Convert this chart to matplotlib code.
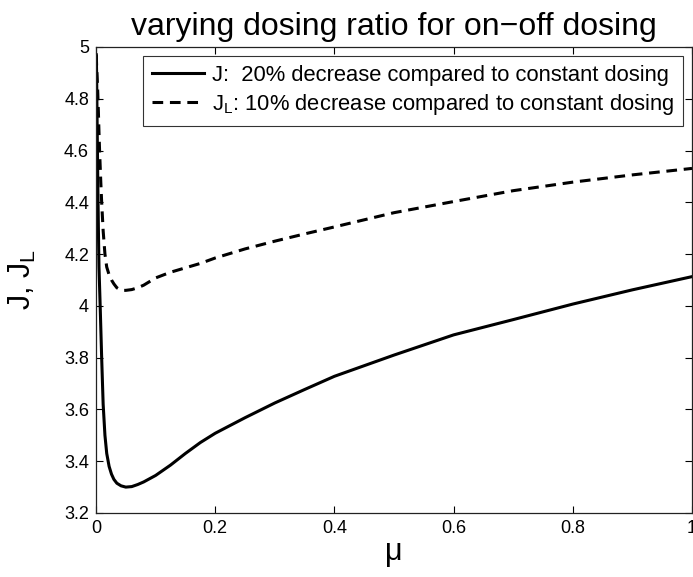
import matplotlib
matplotlib.use("Agg")
import matplotlib.pyplot as plt
from matplotlib.ticker import FuncFormatter

plt.rcParams['font.family'] = ['Liberation Sans', 'DejaVu Sans']
plt.rcParams['mathtext.fontset'] = 'custom'
plt.rcParams['mathtext.rm'] = 'Liberation Sans'
plt.rcParams['mathtext.it'] = 'Liberation Sans:italic'

# dosing ratio mu and the two cost functionals
mu_J = [0.0005, 0.001, 0.002, 0.003, 0.004, 0.005, 0.007, 0.0095, 0.012, 0.015,
        0.018, 0.022, 0.026, 0.03, 0.035, 0.042, 0.05, 0.06, 0.07, 0.08, 0.1,
        0.125, 0.15, 0.175, 0.2, 0.25, 0.3, 0.35, 0.4, 0.5, 0.6, 0.7, 0.8, 0.9, 1.0]
J = [4.97, 4.9, 4.68, 4.48, 4.3, 4.15, 4.0, 3.8, 3.62, 3.5,
     3.43, 3.38, 3.35, 3.33, 3.315, 3.305, 3.30, 3.302, 3.31, 3.32, 3.345,
     3.385, 3.43, 3.472, 3.508, 3.568, 3.625, 3.677, 3.728, 3.81, 3.888, 3.947, 4.007, 4.062, 4.113]

mu_JL = [0.0005, 0.001, 0.002, 0.003, 0.004, 0.005, 0.006, 0.008, 0.0095, 0.012,
         0.015, 0.018, 0.022, 0.026, 0.03, 0.035, 0.04, 0.045, 0.05, 0.06, 0.07,
         0.08, 0.1, 0.125, 0.15, 0.175, 0.2, 0.25, 0.3, 0.35, 0.4, 0.5, 0.6, 0.7,
         0.8, 0.9, 1.0]
JL = [4.97, 4.93, 4.88, 4.82, 4.75, 4.67, 4.6, 4.48, 4.4, 4.29,
      4.2, 4.15, 4.12, 4.1, 4.085, 4.07, 4.063, 4.06, 4.06, 4.063, 4.07,
      4.08, 4.108, 4.13, 4.147, 4.164, 4.185, 4.22, 4.25, 4.278, 4.305, 4.36, 4.403, 4.445,
      4.478, 4.506, 4.531]

legend_labels = ['J:  20% decrease compared to constant dosing',
                 r'J$_{\mathrm{L}}$: 10% decrease compared to constant dosing']
x_ticks = [0, 0.2, 0.4, 0.6, 0.8, 1]
y_ticks = [3.2, 3.4, 3.6, 3.8, 4, 4.2, 4.4, 4.6, 4.8, 5]

fig = plt.figure(figsize=(6.93, 5.77), dpi=100)
ax = fig.add_axes([96 / 693, 64 / 577, 596 / 693, 466 / 577])

ax.plot(mu_J, J, color='black', lw=2.2, solid_joinstyle='round', label=legend_labels[0])
ax.plot(mu_JL, JL, color='black', lw=2.2, linestyle=(0, (3.5, 2.2)), label=legend_labels[1])

ax.set_xlim(0, 1)
ax.set_ylim(3.2, 5)
ax.set_xticks(x_ticks)
ax.set_yticks(y_ticks)
fmt = FuncFormatter(lambda v, p: '%g' % v)
ax.xaxis.set_major_formatter(fmt)
ax.yaxis.set_major_formatter(fmt)
ax.tick_params(direction='in', top=True, right=True, length=5, width=0.8,
               labelsize=13, pad=5)
for s in ax.spines.values():
    s.set_linewidth(0.9)
    s.set_color('#222222')

ax.set_title('varying dosing ratio for on\u2212off dosing', fontsize=23, pad=9)
ax.set_xlabel('\u03bc', fontsize=22, labelpad=0)
ax.set_ylabel(r'J, J$_{\mathrm{L}}$', fontsize=22, labelpad=19)

leg = ax.legend(loc='upper right', fontsize=15.8, frameon=True, fancybox=False,
                edgecolor='black', handlelength=2.4, handletextpad=0.35,
                borderaxespad=0.4, borderpad=0.4, labelspacing=0.3)
leg.get_frame().set_linewidth(0.8)

fig.savefig('out.png', dpi=100)
